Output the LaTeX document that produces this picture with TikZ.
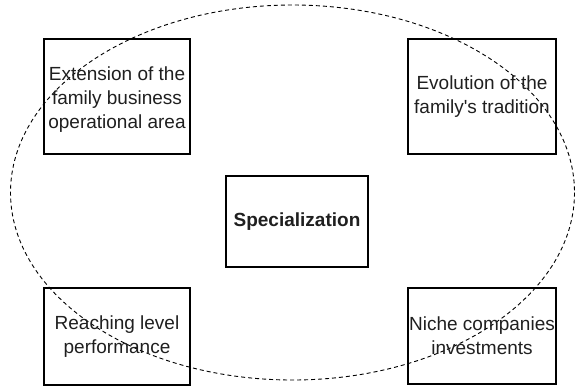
\documentclass[tikz,border=0pt]{standalone}
\usepackage{fontspec}
\setmainfont{Liberation Sans}
\begin{document}
\begin{tikzpicture}[x=1pt,y=-1pt,
  factor/.style={draw=black,line width=2pt,inner sep=0pt,align=center,
    text=black!88,font=\fontsize{19}{24}\selectfont},
  caption/.style={inner sep=0pt,align=center,text=black!88,
    font=\fontsize{19}{24}\selectfont},
  scope line/.style={draw=black,line width=0.9pt,dash pattern=on 4pt off 3pt}]
\useasboundingbox (0,0) rectangle (575,386);
% outer dashed boundary
\draw[scope line] (292.5,192.5) ellipse [x radius=282, y radius=187.5];
% surrounding factors
\node[factor,minimum width=146pt,minimum height=115pt] (ext) at (117,96.5) {};
\node[caption] (extText) at ([yshift=-3pt]ext.center)
  {Extension of the\\family business\\operational area};
\node[factor,minimum width=148pt,minimum height=115pt] (evo) at (482,96.5)
  {Evolution of the\\family\textquotesingle s tradition};
\node[factor,minimum width=146pt,minimum height=97pt] (reach) at (117,336.5)
  {Reaching level\\performance};
\node[factor,minimum width=148pt,minimum height=96pt] (niche) at (482,336)
  {Niche companies\\investments};
% central concept
\node[factor,minimum width=142pt,minimum height=91pt,font=\fontsize{19}{24}\selectfont\bfseries] (spec) at (297,221.5)
  {Specialization};
\end{tikzpicture}
\end{document}
